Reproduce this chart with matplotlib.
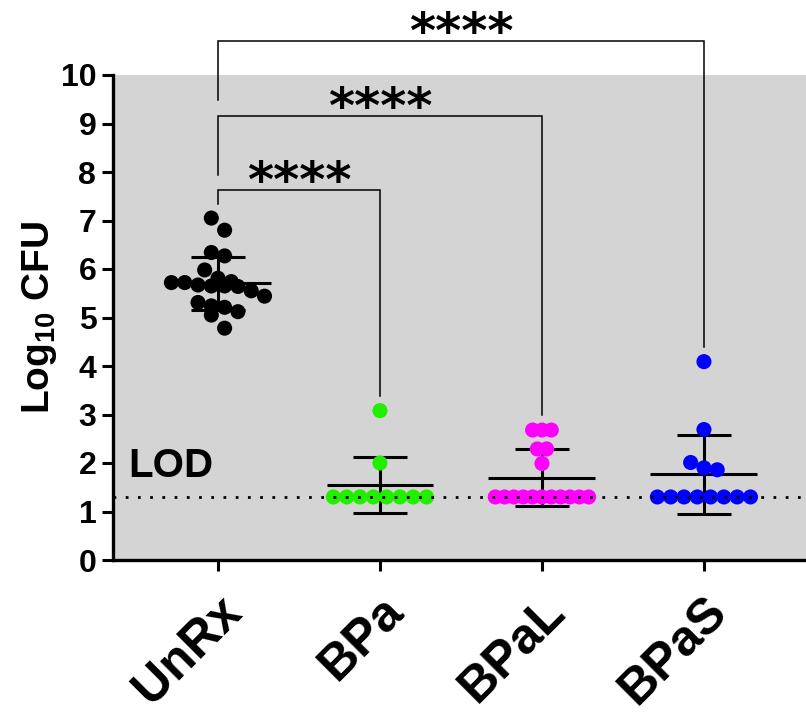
import numpy as np
import matplotlib.pyplot as plt

plt.rcParams['font.family'] = ['Liberation Sans', 'DejaVu Sans']
plt.rcParams['font.weight'] = 'bold'
plt.rcParams['mathtext.fontset'] = 'custom'
plt.rcParams['mathtext.rm'] = 'Liberation Sans:bold'
plt.rcParams['mathtext.it'] = 'Liberation Sans:bold'
plt.rcParams['mathtext.bf'] = 'Liberation Sans:bold'

groups = ['UnRx', 'BPa', 'BPaL', 'BPaS']
colors = ['#000000', '#22EE00', '#FF00FF', '#0000FF']

unrx = [7.05, 6.80, 6.34, 6.27, 5.98, 5.81, 5.74, 5.72, 5.72, 5.67, 5.65,
        5.65, 5.64, 5.55, 5.44, 5.31, 5.24, 5.21, 5.12, 5.05, 4.78]
bpa = [3.08, 2.00, 1.30, 1.30, 1.30, 1.30, 1.30, 1.30, 1.30, 1.30]
bpal = [2.68, 2.68, 2.68, 2.29, 2.29, 1.99, 1.30, 1.30, 1.30, 1.30, 1.30,
        1.30, 1.30, 1.30, 1.30, 1.30, 1.30]
bpas = [4.09, 2.69, 2.01, 1.90, 1.86, 1.30, 1.30, 1.30, 1.30, 1.30, 1.30,
        1.30, 1.30]
values = [unrx, bpa, bpal, bpas]

lod = 1.3
# (group a, group b, bar height, left leg end, right leg end)
brackets = [(0, 1, 7.63, 7.34, 3.38),
            (0, 2, 9.15, 7.94, 2.99),
            (0, 3, 10.70, 9.48, 4.40)]
sig = '****'

W, H = 806, 720
fig = plt.figure(figsize=(W / 100, H / 100), dpi=100)
ax = fig.add_axes([113 / W, 160 / H, 693 / W, 485 / H])
ax.set_facecolor('#D4D4D4')
xlim = (-0.648, 3.63)
ax.set_xlim(xlim)
ax.set_ylim(0, 10)
px_per_x = 693 / (xlim[1] - xlim[0])


def swarm_offsets(vals, bin_h=0.29, base_px=13.3, half_px=46.7):
    vals = np.asarray(vals)
    order = np.argsort(vals, kind='stable')
    rows = []
    for i in order:
        if rows and vals[i] - vals[rows[-1][0]] < bin_h:
            rows[-1].append(i)
        else:
            rows.append([i])
    nmax = max(len(r) for r in rows)
    sp = base_px if nmax < 2 else min(base_px, 2 * half_px / (nmax - 1))
    off = np.zeros(len(vals))
    for r in rows:
        n = len(r)
        # higher values go to the left, like the original layout
        for k, i in enumerate(r[::-1]):
            off[i] = (k - (n - 1) / 2) * sp / px_per_x
    return off


for gi, (v, c) in enumerate(zip(values, colors)):
    v = np.asarray(v)
    m = v.mean()
    sd = v.std(ddof=1)
    ax.plot([gi - 0.33, gi + 0.33], [m, m], color='black', lw=2.2, zorder=2,
            solid_capstyle='butt')
    ax.plot([gi, gi], [m - sd, m + sd], color='black', lw=2.2, zorder=2)
    for y in (m - sd, m + sd):
        ax.plot([gi - 0.164, gi + 0.164], [y, y], color='black', lw=2.2,
                zorder=2, solid_capstyle='butt')
    ax.scatter(gi + swarm_offsets(v), v, s=118, color=c, edgecolors='none',
               zorder=3)

ax.axhline(lod, color='black', lw=2.0, dashes=(1, 3.4), zorder=4)
ax.text(-0.556, 1.71, 'LOD', fontsize=29, fontweight='bold', ha='left',
        va='baseline')

for a, b, top, left_end, right_end in brackets:
    ax.plot([a, a, b, b], [left_end, top, top, right_end], color='black',
            lw=1.1, clip_on=False, zorder=5, solid_joinstyle='miter')
    ax.text((a + b) / 2, top - 0.35, sig, fontsize=36, fontweight='bold',
            family='DejaVu Sans', ha='center', va='bottom', clip_on=False)

for side in ('top', 'right'):
    ax.spines[side].set_visible(False)
for side in ('left', 'bottom'):
    ax.spines[side].set_linewidth(2.4)

ax.set_yticks(range(0, 11))
ax.set_yticklabels([str(t) for t in range(0, 11)], fontsize=23,
                   fontweight='bold')
ax.set_xticks(range(len(groups)))
ax.set_xticklabels(groups, fontsize=36, fontweight='bold', rotation=45,
                   ha='right', va='top', rotation_mode='anchor')
ax.tick_params(axis='both', length=8, width=2.2, direction='out')
ax.tick_params(axis='x', pad=12)
ax.tick_params(axis='y', pad=4)
ax.set_ylabel(r'Log$_{10}$ CFU', fontsize=28, fontweight='bold', labelpad=1)

fig.savefig('out.png', dpi=100)
